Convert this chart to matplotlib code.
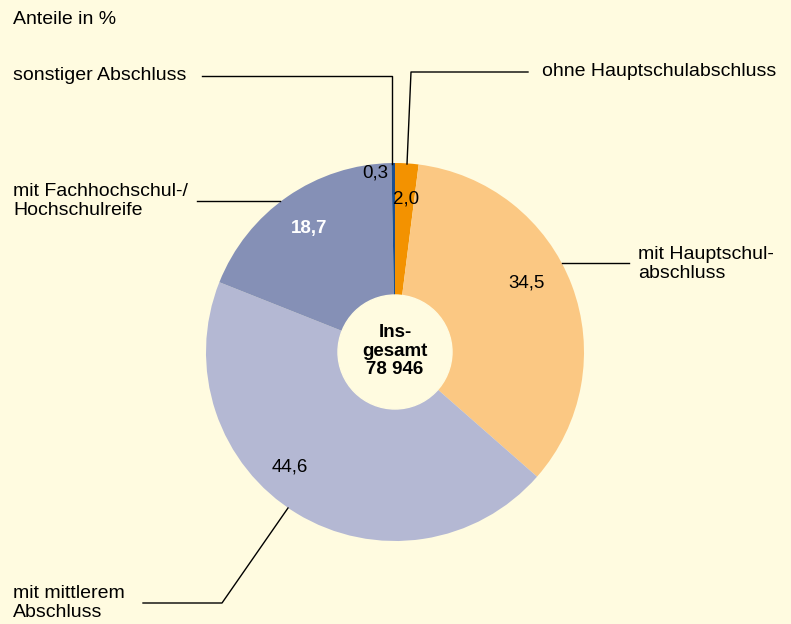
import matplotlib.pyplot as plt
from matplotlib.patches import Circle

# data
categories = ['ohne Hauptschulabschluss', 'mit Hauptschul-\nabschluss',
              'mit mittlerem\nAbschluss', 'mit Fachhochschul-/\nHochschulreife',
              'sonstiger Abschluss']
shares = [2.0, 34.5, 44.6, 18.7, 0.3]
share_labels = ['2,0', '34,5', '44,6', '18,7', '0,3']
total_label = 'Ins-\ngesamt\n78 946'
title = 'Anteile in %'

colors = ['#F39200', '#FBC883', '#B4B8D3', '#8590B6', '#1D4F8F']
bg = '#FFFBE0'

plt.rcParams['font.family'] = ['Liberation Sans', 'DejaVu Sans']
W, H = 791, 624
fig = plt.figure(figsize=(W / 100, H / 100), dpi=100, facecolor=bg)
ax = fig.add_axes([0, 0, 1, 1])


def py(y):
    # pixel row (from top) to data y
    return H - y


cx, cy, r = 395, 352, 189
ax.pie(shares, colors=colors, startangle=90, counterclock=False,
       center=(cx, py(cy)), radius=r, frame=True,
       wedgeprops=dict(linewidth=0))
ax.set_xlim(0, W)
ax.set_ylim(0, H)
ax.set_aspect('equal')
ax.axis('off')

ax.add_patch(Circle((cx, py(cy)), 57, color=bg, zorder=3))
ax.text(cx, py(351), total_label, ha='center', va='center', fontsize=13.5,
        fontweight='bold', linespacing=1.15, zorder=4)

fs = 14
# value labels (pixel positions)
val_pos = [(406, 199), (527, 283), (290, 467), (309, 229), (375, 173)]
for lab, (x, y) in zip(share_labels, val_pos):
    is_bold = lab == '18,7'
    ax.text(x, py(y), lab, ha='center', va='center', fontsize=13.5,
            color='white' if is_bold else 'black',
            fontweight='bold' if is_bold else 'normal', zorder=4)

ax.text(13, py(19), title, ha='left', va='center', fontsize=fs)

# category labels and leader lines
cat_pos = [(542, 72), (638, 264), (13, 603), (13, 201), (13, 76)]
for lab, (x, y) in zip(categories, cat_pos):
    ax.text(x, py(y), lab, ha='left', va='center', fontsize=fs,
            linespacing=1.15)

leaders = [
    [(528, 72), (411, 72), (407, 164)],
    [(629, 263), (562, 263)],
    [(143, 603), (222, 603), (288, 508)],
    [(197, 201), (280, 201)],
    [(202, 76), (392, 76), (392, 164)],
]
for pts in leaders:
    xs = [p[0] for p in pts]
    ys = [py(p[1]) for p in pts]
    ax.plot(xs, ys, color='black', lw=1.0, zorder=5)

fig.savefig('out.png', dpi=100, facecolor=bg)
